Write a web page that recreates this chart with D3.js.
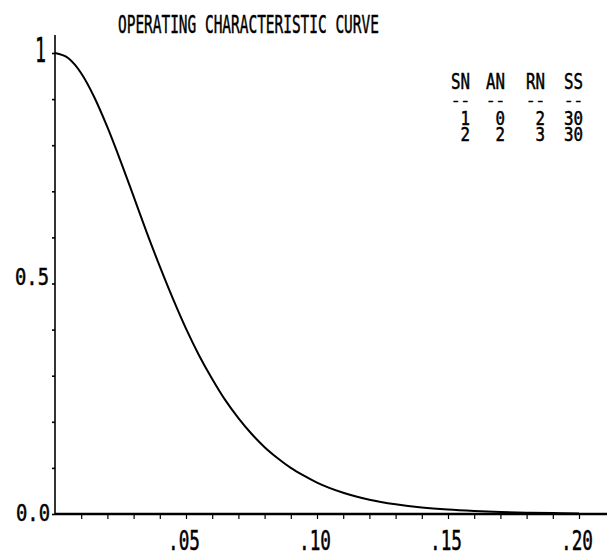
<!DOCTYPE html>
<html>
<head>
<meta charset="utf-8">
<script src="https://cdn.jsdelivr.net/npm/d3@7"></script>
<style>
  html, body { margin: 0; padding: 0; background: #fff; }
  svg { display: block; }
  text { font-family: "DejaVu Sans Mono", monospace; fill: #000; stroke: #000; stroke-width: 0.5; }
</style>
</head>
<body>
<svg id="chart" width="610" height="557"></svg>
<script>
// Fraction defective p and probability of acceptance Pa
const fractionDefective = [0, .005, .01, .015, .02, .025, .03, .035, .04, .045, .05, .055, .06, .065,
  .07, .075, .08, .085, .09, .095, .10, .11, .12, .13, .14, .15, .16, .17, .18, .19, .20];
const probAccept = [1.000, .989, .956, .904, .839, .766, .689, .611, .537, .467, .402, .344, .293, .247,
  .208, .174, .145, .121, .100, .083, .068, .046, .031, .021, .014, .0095, .0065, .0043, .0029, .0019, .0012];

// Sampling plan table
const planHeaders = ["SN", "AN", "RN", "SS"];
const planRows = [
  ["1", "0", "2", "30"],
  ["2", "2", "3", "30"]
];

const xTickLabels = [".05", ".10", ".15", ".20"];
const xTickValues = [0.05, 0.10, 0.15, 0.20];
const yTickLabels = ["0.0", "0.5", "1"];
const yTickValues = [0, 0.5, 1];

const svg = d3.select("#chart");

const x = d3.scaleLinear().domain([0, 0.20]).range([55, 579]);
const y = d3.scaleLinear().domain([0, 1]).range([514, 53]);

// Tall, narrow plotter-style text: fit the advance width and cap height
const CAP = 0.729;
function plotText(str, left, baseline, width, cap) {
  const size = cap / CAP;
  const g = svg.append("g").attr("transform", `translate(${left},${baseline})`);
  const t = g.append("text").attr("x", 0).attr("y", 0)
    .attr("font-size", size).text(str);
  const w0 = t.node().getComputedTextLength();
  t.attr("transform", `scale(${width / w0},1)`);
  return t;
}

// Title
plotText("OPERATING CHARACTERISTIC CURVE", 118, 33, 261, 18);

// Y axis: line plus small ticks every 0.1
svg.append("line")
  .attr("x1", x(0)).attr("x2", x(0))
  .attr("y1", 35).attr("y2", y(0))
  .attr("stroke", "#000").attr("stroke-width", 1.6);

const yAxis = d3.axisLeft(y)
  .tickValues(d3.range(0, 11).map(i => i / 10))
  .tickSize(3).tickFormat("");
const gy = svg.append("g").attr("transform", `translate(${x(0)},0)`).call(yAxis);
gy.select(".domain").remove();
gy.selectAll(".tick line").attr("stroke", "#000").attr("stroke-width", 1.6);

// Y labels
plotText(yTickLabels[0], 16, y(yTickValues[0]) + 7, 34, 17);
plotText(yTickLabels[1], 15, y(yTickValues[1]) + 1, 34, 17);
plotText(yTickLabels[2], 35, y(yTickValues[2]) + 9, 11, 24);

// X axis: heavy baseline and minor ticks every 0.01
svg.append("line")
  .attr("x1", x(0)).attr("x2", 607)
  .attr("y1", y(0)).attr("y2", y(0))
  .attr("stroke", "#000").attr("stroke-width", 2.4);

const xAxis = d3.axisBottom(x)
  .tickValues(d3.range(1, 21).map(i => i / 100))
  .tickSize(5).tickFormat("");
const gx = svg.append("g").attr("transform", `translate(0,${y(0)})`).call(xAxis);
gx.select(".domain").remove();
gx.selectAll(".tick line").attr("stroke", "#000").attr("stroke-width", 1.2);

xTickValues.forEach((v, i) => {
  plotText(xTickLabels[i], x(v) - 18, 550, 32, 19);
});

// OC curve
const pts = fractionDefective.map((p, i) => [p, probAccept[i]]);
const line = d3.line()
  .x(d => x(d[0]))
  .y(d => y(d[1]))
  .curve(d3.curveMonotoneX);
svg.append("path")
  .datum(pts)
  .attr("d", line)
  .attr("fill", "none")
  .attr("stroke", "#000")
  .attr("stroke-width", 2);

// Plan table
const colRight = [470, 505, 545, 583];
const cellW = 9.5;
planHeaders.forEach((h, c) => {
  plotText(h, colRight[c] - 2 * cellW, 89, 2 * cellW, 16);
  plotText("--", colRight[c] - 2 * cellW, 105, 2 * cellW, 9);
});
planRows.forEach((row, r) => {
  row.forEach((val, c) => {
    const w = cellW * val.length;
    plotText(val, colRight[c] - w, 125 + r * 16, w, 14);
  });
});
</script>
</body>
</html>
